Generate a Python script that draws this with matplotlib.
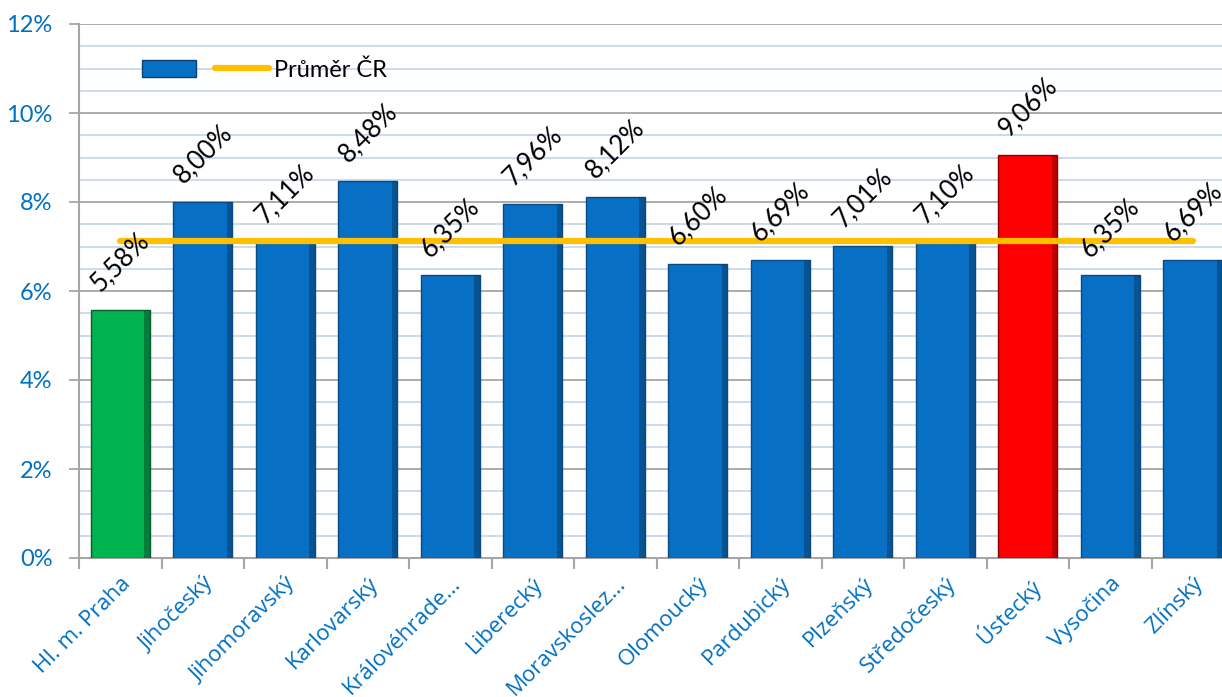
import matplotlib
matplotlib.use("Agg")
import matplotlib.pyplot as plt
from matplotlib.ticker import MultipleLocator, FuncFormatter
from matplotlib.patches import Patch
from matplotlib.lines import Line2D

categories = ["Hl. m. Praha", "Jihočeský", "Jihomoravský", "Karlovarský",
              "Královéhrade…", "Liberecký", "Moravskoslez…", "Olomoucký",
              "Pardubický", "Plzeňský", "Středočeský", "Ústecký", "Vysočina", "Zlínský"]
values = [5.58, 8.00, 7.11, 8.48, 6.35, 7.96, 8.12, 6.60, 6.69, 7.01, 7.10, 9.06, 6.35, 6.69]
average = [7.12] * len(categories)
avg_label = "Průměr ČR"

BLUE = "#0870C4"
GREEN = "#00B34F"
RED = "#FF0000"
bar_colors = [GREEN] + [BLUE] * 10 + [RED] + [BLUE] * 2
edge_colors = ["#0B5A2C"] + ["#0B4A80"] * 10 + ["#8A0000"] + ["#0B4A80"] * 2
shade_colors = ["#06522A"] + ["#083E6C"] * 10 + ["#8A0000"] + ["#083E6C"] * 2
TXT_BLUE = "#0070C0"

fig = plt.figure(figsize=(12.22, 6.97), dpi=100)
W, H = 1222, 697
ax = fig.add_axes([79 / W, (H - 558) / H, 1155 / W, (558 - 24) / H])

x = list(range(len(categories)))
bw = 0.72
ax.bar(x, values, width=bw, color=bar_colors, edgecolor=edge_colors, linewidth=1.0, zorder=3)
# darker bevel strip on right side of each bar
ax.bar([xi + bw / 2 - 0.035 for xi in x], values, width=0.07, color=shade_colors,
       linewidth=0, alpha=0.55, zorder=3.1)
ax.plot(x, average, color="#FFC000", linewidth=4.5, solid_capstyle="round", zorder=4)

for xi, v in zip(x, values):
    ax.annotate(f"{v:.2f}%".replace(".", ","), (xi, v), xytext=(0, 10), textcoords="offset points",
                ha="center", va="bottom", rotation=45, fontsize=18.5, color="black",
                family="Lato", zorder=5)

ax.set_xlim(-0.5, len(categories) - 0.5)
ax.set_ylim(0, 12)
ax.yaxis.set_major_locator(MultipleLocator(2))
ax.yaxis.set_minor_locator(MultipleLocator(0.5))
ax.yaxis.set_major_formatter(FuncFormatter(lambda v, p: f"{int(round(v))}%"))
ax.grid(which="minor", axis="y", color="#C9D7EC", linewidth=1.3, zorder=0)
ax.grid(which="major", axis="y", color="#A6A6A6", linewidth=1.3, zorder=1)
ax.tick_params(axis="y", which="minor", length=0)
ax.tick_params(axis="y", which="major", length=7, width=1.3, color="#A6A6A6",
               labelsize=17, labelcolor=TXT_BLUE, pad=12)
for lab in ax.get_yticklabels():
    lab.set_family("Lato")

ax.set_xticks([i + 0.5 for i in range(-1, len(categories))], minor=False)
ax.set_xticklabels([])
ax.set_xticks(x, minor=True)
ax.set_xticklabels(categories, minor=True, rotation=45, ha="right", va="top",
                   rotation_mode="anchor", fontsize=16, color=TXT_BLUE, family="Open Sans")
ax.tick_params(axis="x", which="minor", length=0, pad=11)
ax.tick_params(axis="x", which="major", length=8, width=1.5, color="#A6A6A6")
for lab in ax.get_xticklabels(minor=True):
    lab.set_x(lab.get_position()[0])

for s in ["top", "right"]:
    ax.spines[s].set_visible(False)
ax.spines["left"].set_color("#A6A6A6")
ax.spines["left"].set_linewidth(1.5)
ax.spines["bottom"].set_color("#A6A6A6")
ax.spines["bottom"].set_linewidth(1.5)

handles = [Patch(facecolor=BLUE, edgecolor="#0B3F6E"),
           Line2D([0], [0], color="#FFC000", linewidth=4.5, solid_capstyle="round")]
leg = ax.legend(handles, ["", avg_label], ncol=2, loc="upper left",
                bbox_to_anchor=(0.046, 0.952), frameon=False, handlelength=2.3,
                handletextpad=0.2, columnspacing=0.6, prop={"family": "Lato", "size": 17},
                handleheight=0.7, borderaxespad=0.0)

fig.savefig("out.png", dpi=100)
